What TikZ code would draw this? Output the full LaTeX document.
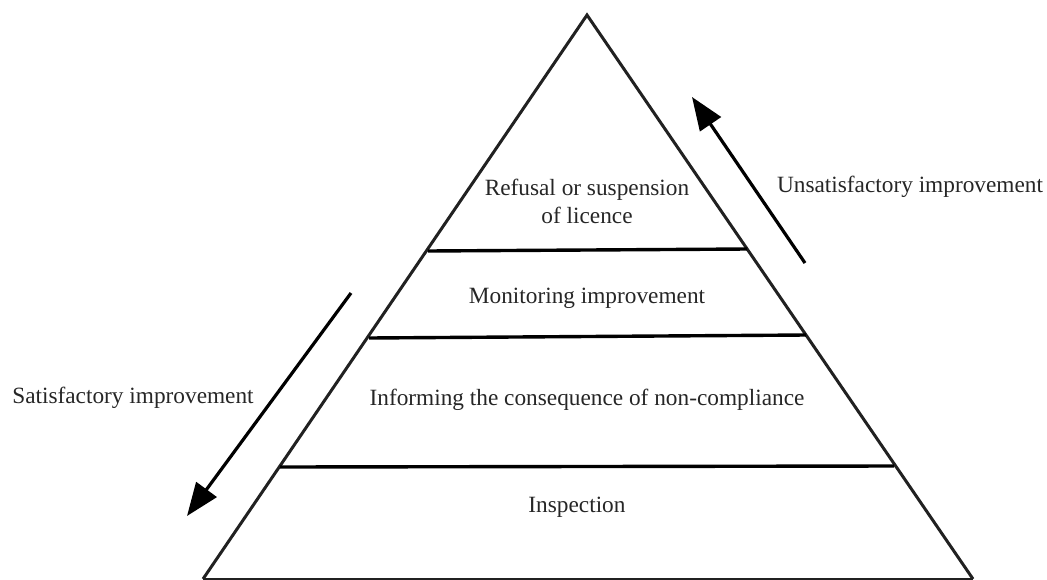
\documentclass[tikz,border=0pt]{standalone}
\usepackage{fontspec}
\setmainfont{Liberation Serif}
\usetikzlibrary{arrows.meta}
\begin{document}
\begin{tikzpicture}[x=1pt,y=-1pt,
  edge/.style={draw=black!87,line width=3pt,line join=miter},
  tier/.style={draw=black,line width=3.4pt},
  flow/.style={draw=black,line width=3.2pt,-{Triangle[length=33pt,width=25pt]}},
  lbl/.style={font=\fontsize{23.3}{28}\selectfont,text=black!85,align=center,inner sep=0pt}]
\useasboundingbox (0,0) rectangle (1047,579);
% pyramid outline
\coordinate (apex) at (587,15);
\coordinate (bl) at (203,579);
\coordinate (br) at (973,579);
\draw[edge] (bl) -- (apex) -- (br);
\draw[edge] (bl) -- (br);
% tier dividers
\coordinate (d1l) at (428,251);
\coordinate (d1r) at (747,249);
\coordinate (d2l) at (369,338);
\coordinate (d2r) at (806,335);
\coordinate (d3l) at (280,467);
\coordinate (d3r) at (894,466);
\draw[tier] (d1l) -- (d1r);
\draw[tier] (d2l) -- (d2r);
\draw[tier] (d3l) -- (d3r);
% tier labels
\node[lbl] (t1) at (587,201) {Refusal or suspension\\of licence};
\node[lbl] (t2) at (587,298) {Monitoring improvement};
\node[lbl] (t3) at (587,400) {Informing the consequence of non-compliance};
\node[lbl] (t4) at (577,507) {Inspection};
% escalation arrows
\coordinate (ut) at (805,263);
\coordinate (uh) at (692,97);
\draw[flow] (ut) -- (uh);
\node[lbl] (ul) at (910,187) {Unsatisfactory improvement};
\coordinate (dt) at (351,293);
\coordinate (dh) at (187,516);
\draw[flow] (dt) -- (dh);
\node[lbl] (dl) at (133,398) {Satisfactory improvement};
\end{tikzpicture}
\end{document}
